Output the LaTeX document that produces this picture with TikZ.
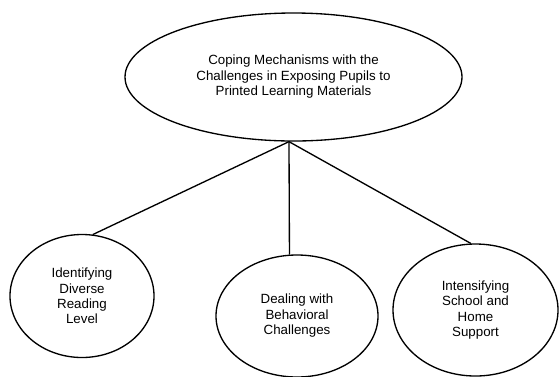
\documentclass[tikz,border=0pt]{standalone}
\usepackage{fontspec}
\setmainfont{Liberation Sans}
\usetikzlibrary{shapes.geometric}

\begin{document}
\begin{tikzpicture}[
      x=0.75pt, y=-0.75pt,
      theme/.style={ellipse, draw, line width=1pt, inner sep=0pt, minimum width=252.75pt, minimum height=96pt, align=center, font=\fontsize{10}{11.6}\selectfont},
      strategy/.style={ellipse, draw, line width=1pt, inner sep=0pt, align=center, font=\fontsize{10}{11.6}\selectfont},
      link/.style={line width=1pt}
    ]
    \useasboundingbox (0,0) rectangle (559,376);

    \node[theme] (coping) at (293.5,77) {Coping Mechanisms with the\\Challenges in Exposing Pupils to\\Printed Learning Materials};

    \node[strategy, minimum width=108pt, minimum height=92.25pt] (reading) at (82,296) {Identifying\\Diverse\\Reading\\Level};
    \node[strategy, minimum width=121.5pt, minimum height=91.5pt] (behavior) at (297,316) {Dealing with\\Behavioral\\Challenges};
    \node[strategy, minimum width=123.75pt, minimum height=99pt] (support) at (475.5,310) {Intensifying\\School and\\Home\\Support};

    \draw[link] (coping.266) -- (reading.80);
    \draw[link] (coping.266) -- (behavior.97.6);
    \draw[link] (coping.266) -- (support.94.8);
  \end{tikzpicture}
\end{document}
